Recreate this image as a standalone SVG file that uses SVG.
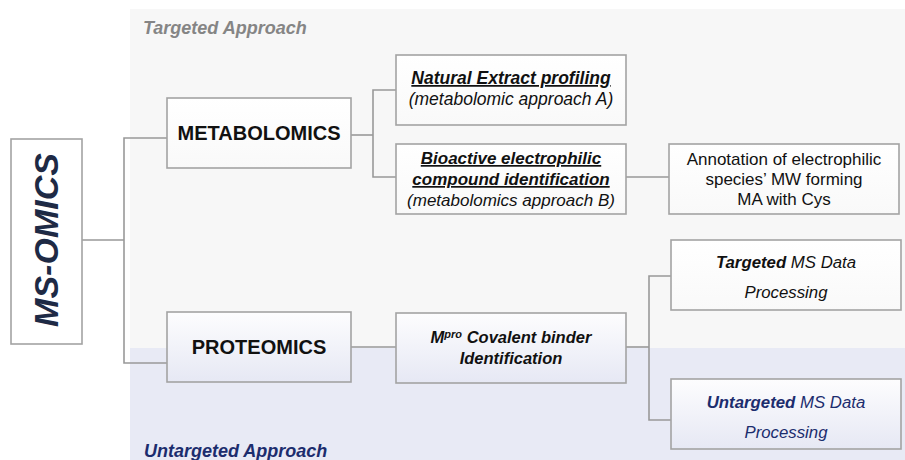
<svg xmlns="http://www.w3.org/2000/svg" width="905" height="460" viewBox="0 0 905 460">
<defs>
<style>
.bg1{fill:#f7f7f7}
.bg2{fill:#e8eaf5}
.box{fill:url(#gTop);stroke:#a3a3a3;stroke-width:1.6}
.boxL{fill:url(#gLow);stroke:#a3a3a3;stroke-width:1.6}
.box0{fill:#ffffff;stroke:#a3a3a3;stroke-width:1.6}
.con{fill:none;stroke:#999999;stroke-width:1.6}
text{font-family:"Liberation Sans",Arial,sans-serif;fill:#111111}
.b{font-weight:bold}
.i{font-style:italic}
.u{text-decoration:underline}
.mid{text-anchor:middle}
.nv{fill:#1c2d6e}
</style>
<linearGradient id="gTop" x1="0" y1="0" x2="0" y2="1">
<stop offset="0" stop-color="#ffffff"/>
<stop offset="1" stop-color="#f9f9f9"/>
</linearGradient>
<linearGradient id="gLow" x1="0" y1="0" x2="0" y2="1">
<stop offset="0" stop-color="#fdfdfe"/>
<stop offset="1" stop-color="#e6e8f4"/>
</linearGradient>
</defs>
<rect x="0" y="0" width="905" height="460" fill="#ffffff"/>
<g id="regions">
<rect class="bg1" x="130" y="9" width="775" height="339"/>
<rect class="bg2" x="130" y="348" width="775" height="112"/>
<text x="143" y="34" class="b i" font-size="18" style="fill:#858585">Targeted Approach</text>
<text x="144" y="457" class="b i nv" font-size="18">Untargeted Approach</text>
</g>
<g id="connectors">
<polyline class="con" points="82,240 124,240"/>
<polyline class="con" points="167,138 124,138 124,363 167,363"/>
<polyline class="con" points="351,135 373,135"/>
<polyline class="con" points="396,90 373,90 373,177 396,177"/>
<polyline class="con" points="626,177 669,177"/>
<polyline class="con" points="351,347 396,347"/>
<polyline class="con" points="626,347 649,347"/>
<polyline class="con" points="671,276 649,276 649,420 671,420"/>
</g>
<g id="ms-omics">
<rect class="box0" x="11" y="139" width="71" height="205"/>
<text transform="translate(58,240) rotate(-90)" class="b i mid" font-size="34" style="fill:#1e2a45">MS-OMICS</text>
</g>
<g id="metabolomics">
<rect class="box" x="167" y="98" width="184" height="70"/>
<text x="259" y="140" class="b mid" font-size="20">METABOLOMICS</text>
</g>
<g id="natural-extract">
<rect class="box" x="396" y="55" width="230" height="70"/>
<text x="511" y="84" class="b i u mid" font-size="17.5">Natural Extract profiling</text>
<text x="511" y="105" class="i mid" font-size="17.5">(metabolomic approach A)</text>
</g>
<g id="bioactive">
<rect class="box" x="396" y="144" width="230" height="70"/>
<text x="511" y="164" class="b i u mid" font-size="17">Bioactive electrophilic</text>
<text x="511" y="185" class="b i u mid" font-size="17">compound identification</text>
<text x="511" y="206" class="i mid" font-size="17">(metabolomics approach B)</text>
</g>
<g id="annotation">
<rect class="box" x="669" y="144" width="230" height="70"/>
<text x="784" y="165" class="mid" font-size="17">Annotation of electrophilic</text>
<text x="784" y="185" class="mid" font-size="17">species’ MW forming</text>
<text x="784" y="205" class="mid" font-size="17">MA with Cys</text>
</g>
<g id="proteomics">
<rect class="boxL" x="167" y="312" width="184" height="70"/>
<text x="259" y="354" class="b mid" font-size="20">PROTEOMICS</text>
</g>
<g id="mpro">
<rect class="boxL" x="396" y="313" width="230" height="70"/>
<text x="511" y="343" class="b i mid" font-size="16.5">M<tspan font-size="11" dy="-5">pro</tspan><tspan dy="5"> Covalent binder</tspan></text>
<text x="511" y="364" class="b i mid" font-size="16.5">Identification</text>
</g>
<g id="targeted-ms">
<rect class="box" x="671" y="240" width="230" height="70"/>
<text x="786" y="268" class="i mid" font-size="16.8"><tspan class="b">Targeted</tspan> MS Data</text>
<text x="786" y="298" class="i mid" font-size="16.8">Processing</text>
</g>
<g id="untargeted-ms">
<rect class="boxL" x="671" y="379" width="230" height="70"/>
<text x="786" y="408" class="i mid nv" font-size="16.8"><tspan class="b">Untargeted</tspan> MS Data</text>
<text x="786" y="438" class="i mid nv" font-size="16.8">Processing</text>
</g>
</svg>
